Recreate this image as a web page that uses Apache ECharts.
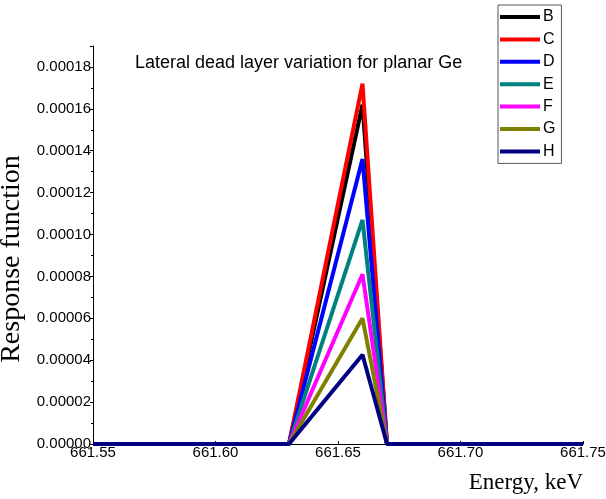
<!DOCTYPE html>
<html>
<head>
<meta charset="utf-8">
<script src="https://cdn.jsdelivr.net/npm/echarts@6/dist/echarts.min.js"></script>
<style>
  html, body { margin: 0; padding: 0; background: #fff; }
  #chart { width: 606px; height: 499px; }
</style>
</head>
<body>
<div id="chart"></div>
<script>
// energy points (keV)
const energies = [661.55, 661.63, 661.66, 661.67, 661.75];
const seriesNames = ['B', 'C', 'D', 'E', 'F', 'G', 'H'];
const colors = ['#000000', '#ff0000', '#0000ff', '#008080', '#ff00ff', '#808000', '#000080'];
// response at each energy point
const valuesB = [0, 0, 0.000162, 0, 0];
const valuesC = [0, 0, 0.000172, 0, 0];
const valuesD = [0, 0, 0.000136, 0, 0];
const valuesE = [0, 0, 0.000107, 0, 0];
const valuesF = [0, 0, 0.000081, 0, 0];
const valuesG = [0, 0, 0.000060, 0, 0];
const valuesH = [0, 0, 0.0000426, 0, 0];
const allValues = [valuesB, valuesC, valuesD, valuesE, valuesF, valuesG, valuesH];

const chartDom = document.getElementById('chart');
const myChart = echarts.init(chartDom);

const series = seriesNames.map((name, i) => ({
  name: name,
  type: 'line',
  data: energies.map((e, j) => [e, allValues[i][j]]),
  showSymbol: false,
  lineStyle: { color: colors[i], width: 4 },
  itemStyle: { color: colors[i] },
  z: 2 + i
}));

const option = {
  animation: false,
  backgroundColor: '#fff',
  title: {
    text: 'Lateral dead layer variation for planar Ge',
    left: 130,
    top: 49,
    textStyle: { fontFamily: 'Liberation Sans', fontSize: 18, fontWeight: 'normal', color: '#000' }
  },
  legend: {
    orient: 'vertical',
    left: 498,
    top: 5,
    padding: [4, 6, 4, 2],
    itemWidth: 40,
    itemHeight: 4,
    itemGap: 6.4,
    borderColor: '#555',
    borderWidth: 1,
    icon: 'rect',
    data: seriesNames.map((n, i) => ({ name: n, itemStyle: { color: colors[i] } })),
    textStyle: { fontFamily: 'Liberation Sans', fontSize: 16, lineHeight: 16, color: '#000', padding: [0, 0, 0, -2] }
  },
  grid: { left: 93, right: 23, top: 46, bottom: 55, outerBoundsMode: 'none' },
  xAxis: {
    type: 'value',
    min: 661.55,
    max: 661.75,
    interval: 0.05,
    name: 'Energy, keV',
    nameLocation: 'end',
    nameGap: 0,
    nameTextStyle: {
      fontFamily: 'Liberation Serif', fontSize: 23, color: '#000',
      align: 'right', verticalAlign: 'top', padding: [27, 0, 0, 0]
    },
    axisLine: { lineStyle: { color: '#000', width: 1 } },
    axisTick: { show: true, inside: true, length: 3, lineStyle: { color: '#000' } },
    minorTick: { show: true, splitNumber: 2, length: 2, lineStyle: { color: '#000' } },
    splitLine: { show: false },
    axisLabel: {
      fontFamily: 'Liberation Sans', fontSize: 15, color: '#000', margin: 1,
      formatter: v => v.toFixed(2)
    }
  },
  yAxis: {
    type: 'value',
    min: 0,
    max: 0.00019,
    interval: 0.00002,
    name: 'Response function',
    nameLocation: 'middle',
    nameGap: 52,
    nameTextStyle: { fontFamily: 'Liberation Serif', fontSize: 28, color: '#000', padding: [0, 28, 0, 0] },
    axisLine: { show: true, lineStyle: { color: '#000', width: 1 } },
    axisTick: { show: true, length: 3, lineStyle: { color: '#000' } },
    minorTick: { show: true, splitNumber: 2, length: 2, lineStyle: { color: '#000' } },
    splitLine: { show: false },
    axisLabel: {
      fontFamily: 'Liberation Sans', fontSize: 15, color: '#000', margin: 2,
      showMaxLabel: false,
      formatter: v => v.toFixed(5)
    }
  },
  series: series
};

myChart.setOption(option);
</script>
</body>
</html>
